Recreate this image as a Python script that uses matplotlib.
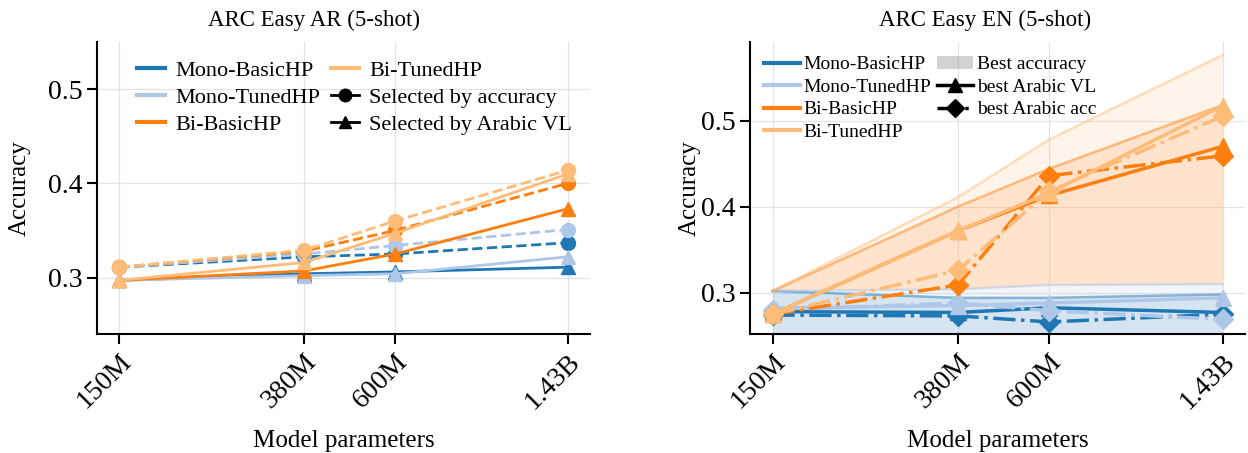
import numpy as np
import matplotlib
matplotlib.use("Agg")
import matplotlib.pyplot as plt
from matplotlib.lines import Line2D
from matplotlib.patches import Patch

plt.rcParams['font.family'] = ['Liberation Serif', 'DejaVu Serif']
plt.rcParams['mathtext.fontset'] = 'stix'

# model sizes and tick labels
sizes = [150e6, 380e6, 600e6, 1.43e9]
size_labels = ['150M', '380M', '600M', '1.43B']

configs = ['Mono-BasicHP', 'Mono-TunedHP', 'Bi-BasicHP', 'Bi-TunedHP']
colors = ['#1f77b4', '#aec7e8', '#ff7f0e', '#ffbb78']

# ARC Easy AR: selected by accuracy / selected by Arabic VL
ar_acc_mono_basic = [0.311, 0.322, 0.325, 0.337]
ar_acc_mono_tuned = [0.311, 0.325, 0.334, 0.351]
ar_acc_bi_basic = [0.311, 0.328, 0.350, 0.400]
ar_acc_bi_tuned = [0.311, 0.329, 0.360, 0.414]
ar_vl_mono_basic = [0.297, 0.304, 0.306, 0.311]
ar_vl_mono_tuned = [0.297, 0.302, 0.304, 0.322]
ar_vl_bi_basic = [0.297, 0.307, 0.325, 0.373]
ar_vl_bi_tuned = [0.297, 0.316, 0.347, 0.410]

# ARC Easy EN: best accuracy, best Arabic VL, best Arabic acc
en_best_mono_basic = [0.302, 0.294, 0.294, 0.298]
en_best_mono_tuned = [0.302, 0.304, 0.309, 0.310]
en_best_bi_basic = [0.302, 0.400, 0.444, 0.518]
en_best_bi_tuned = [0.302, 0.411, 0.478, 0.576]
en_vl_mono_basic = [0.278, 0.277, 0.2825, 0.277]
en_vl_mono_tuned = [0.282, 0.285, 0.288, 0.294]
en_vl_bi_basic = [0.275, 0.372, 0.413, 0.470]
en_vl_bi_tuned = [0.275, 0.372, 0.416, 0.517]
en_acc_mono_basic = [0.274, 0.273, 0.266, 0.275]
en_acc_mono_tuned = [0.280, 0.288, 0.279, 0.269]
en_acc_bi_basic = [0.275, 0.309, 0.436, 0.459]
en_acc_bi_tuned = [0.275, 0.326, 0.418, 0.505]

ar_acc = [ar_acc_mono_basic, ar_acc_mono_tuned, ar_acc_bi_basic, ar_acc_bi_tuned]
ar_vl = [ar_vl_mono_basic, ar_vl_mono_tuned, ar_vl_bi_basic, ar_vl_bi_tuned]
en_best = [en_best_mono_basic, en_best_mono_tuned, en_best_bi_basic, en_best_bi_tuned]
en_vl = [en_vl_mono_basic, en_vl_mono_tuned, en_vl_bi_basic, en_vl_bi_tuned]
en_acc = [en_acc_mono_basic, en_acc_mono_tuned, en_acc_bi_basic, en_acc_bi_tuned]

fig = plt.figure(figsize=(12.48, 4.53), dpi=100)
ax1 = fig.add_axes([0.0777, 0.2627, 0.395, 0.644])
ax2 = fig.add_axes([0.601, 0.2627, 0.3966, 0.644])


def style_axis(ax, title, title_x, ypad):
    ax.set_xscale('log')
    ax.minorticks_off()
    ax.set_xticks(sizes)
    ax.set_xticklabels(size_labels, rotation=45, ha='right', rotation_mode='anchor')
    ax.set_yticks([0.3, 0.4, 0.5])
    ax.tick_params(labelsize=20, length=7, width=1.5)
    ax.tick_params(axis='x', pad=4)
    for s in ['top', 'right']:
        ax.spines[s].set_visible(False)
    for s in ['left', 'bottom']:
        ax.spines[s].set_linewidth(1.5)
    ax.grid(True, color='#e3e3e3', linewidth=0.9)
    ax.set_axisbelow(True)
    ax.set_title(title, fontsize=16.5, pad=11.5, x=title_x)
    ax.set_xlabel('Model parameters', fontsize=18, labelpad=11)
    ax.set_ylabel('Accuracy', fontsize=18, labelpad=ypad)


# left panel
for c, col in enumerate(colors):
    ax1.plot(sizes, ar_vl[c], '-', color=col, lw=2, marker='^', ms=10, zorder=3)
    ax1.plot(sizes, ar_acc[c], '--', color=col, lw=2, marker='o', ms=10, zorder=3)
ax1.set_ylim(0.24, 0.55)
style_axis(ax1, 'ARC Easy AR (5-shot)', 0.44, 12.5)

h1 = [Line2D([], [], color=col, lw=3) for col in colors]
h1 += [Line2D([], [], color='black', lw=2, marker='o', ms=9),
       Line2D([], [], color='black', lw=2, marker='^', ms=9)]
l1 = configs + ['Selected by accuracy', 'Selected by Arabic VL']
ax1.legend(h1, l1, ncol=2, loc='upper left', bbox_to_anchor=(0.055, 0.985), frameon=False,
           fontsize=16, handlelength=1.25, handletextpad=0.45, columnspacing=0.5,
           labelspacing=0.3, borderaxespad=0.2)

# right panel
y_lo = 0.252
ax2.set_ylim(y_lo, 0.591)
mono_top = np.maximum(en_best_mono_basic, en_best_mono_tuned)
for c, col in enumerate(colors):
    base = np.full(len(sizes), y_lo) if c < 2 else mono_top
    ax2.fill_between(sizes, base, en_best[c], color=col, alpha=0.15, lw=0, zorder=1)
    ax2.plot(sizes, en_best[c], '-', color=col, lw=1.8, alpha=0.5, zorder=2)
for c, col in enumerate(colors):
    ax2.plot(sizes, en_vl[c], '-', color=col, lw=2.5, marker='^', ms=11, zorder=3)
    ax2.plot(sizes, en_acc[c], '-.', color=col, lw=2.5, marker='D', ms=10, zorder=3)
style_axis(ax2, 'ARC Easy EN (5-shot)', 0.474, 0)

h2 = [Line2D([], [], color=col, lw=3) for col in colors]
h2 += [Patch(facecolor='gray', alpha=0.35, edgecolor='none'),
       Line2D([], [], color='black', lw=2.5, marker='^', ms=10),
       Line2D([], [], color='black', lw=2.5, ls='-.', marker='D', ms=9)]
l2 = configs + ['Best accuracy', 'best Arabic VL', 'best Arabic acc']
ax2.legend(h2, l2, ncol=2, loc='upper left', bbox_to_anchor=(0.0, 1.0), frameon=False,
           fontsize=14, handlelength=1.85, handletextpad=0.2, columnspacing=0.3,
           labelspacing=0.25, borderaxespad=0.3)

fig.savefig('out.png', dpi=100)
